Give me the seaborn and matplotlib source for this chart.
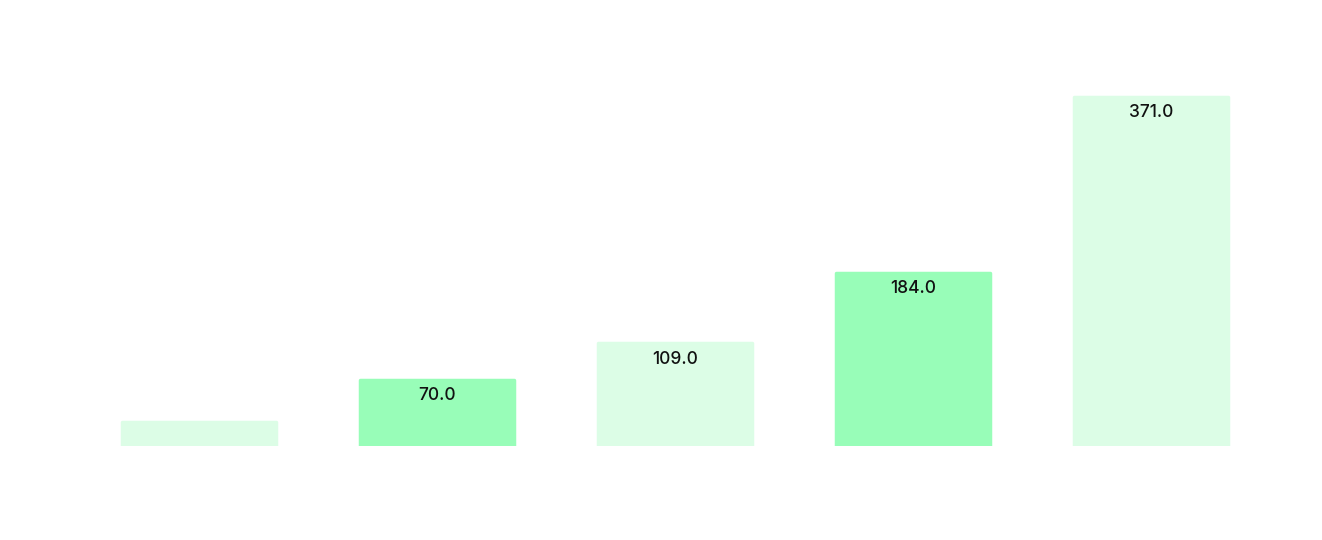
import matplotlib
matplotlib.use("Agg")
import matplotlib.pyplot as plt
import seaborn as sns
import pandas as pd

categories = ["A", "B", "C", "D", "E"]
values = [25.0, 70.0, 109.0, 184.0, 371.0]
labels = ["", "70.0", "109.0", "184.0", "371.0"]
colors = ["#dcfde6", "#98fdb8", "#dcfde6", "#98fdb8", "#dcfde6"]

sns.set_theme(style="white")
plt.rcParams["font.family"] = ["Inter", "DejaVu Sans"]

df = pd.DataFrame({"cat": categories, "val": values})

fig = plt.figure(figsize=(13.22, 5.4), dpi=100)
ax = fig.add_axes([80 / 1322, 94.5 / 540, 1190 / 1322, 376.0 / 540])

sns.barplot(data=df, x="cat", y="val", hue="cat", palette=colors,
            width=0.645, legend=False, ax=ax, saturation=1)

for p, c in zip(ax.patches, colors):
    p.set_edgecolor(c)
    p.set_linewidth(2.5)
    p.set_joinstyle("round")

for p, lab in zip(ax.patches, labels):
    if lab:
        ax.annotate(lab, (p.get_x() + p.get_width() / 2, p.get_height()),
                    xytext=(0, -5.5), textcoords="offset points",
                    ha="center", va="top", fontsize=12.5, fontweight="medium",
                    color="#111111")

ax.set_xlim(-0.5, 4.5)
ax.set_ylim(0, 400)
ax.set_xlabel("")
ax.set_ylabel("")
ax.set_xticks([])
ax.set_yticks([])
for s in ax.spines.values():
    s.set_visible(False)

fig.savefig("out.png", dpi=100)
